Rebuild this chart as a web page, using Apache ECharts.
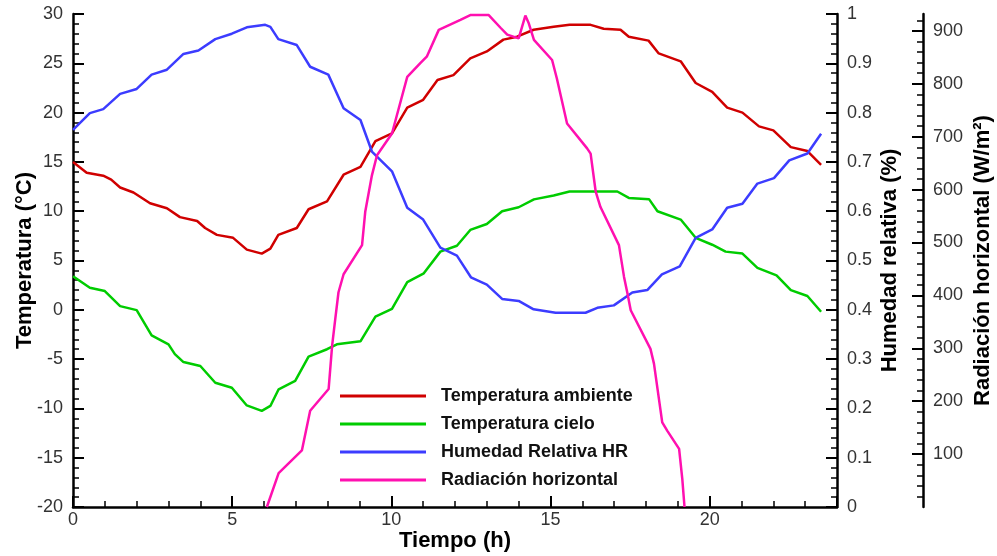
<!DOCTYPE html>
<html>
<head>
<meta charset="utf-8">
<script src="https://cdn.jsdelivr.net/npm/echarts@6/dist/echarts.min.js"></script>
<style>html,body{margin:0;padding:0;background:#fff}#c{width:997px;height:556px}</style>
</head>
<body>
<div id="c"></div>
<script>
// ---- data ----
var hoursAmb = [0,0.43,0.95,1.2,1.48,1.9,2.42,2.95,3.36,3.9,4.15,4.52,5.03,5.46,5.93,6.2,6.45,7.03,7.4,7.98,8.5,9.03,9.5,10.02,10.5,11.0,11.45,11.95,12.48,13.0,13.52,13.95,14.47,15.1,15.6,16.26,16.67,17.2,17.46,18.08,18.4,19.09,19.56,20.08,20.55,21.03,21.55,22.0,22.55,23.07,23.5];
var tempAmb  = [15.0,13.9,13.6,13.2,12.4,11.9,10.8,10.3,9.4,9.0,8.3,7.6,7.3,6.1,5.7,6.2,7.6,8.3,10.2,11.0,13.7,14.5,17.1,17.9,20.5,21.3,23.3,23.8,25.5,26.2,27.4,27.7,28.4,28.7,28.9,28.9,28.5,28.4,27.7,27.3,26.0,25.2,23.0,22.1,20.5,20.0,18.6,18.2,16.5,16.1,14.7];

var hoursSky = [0,0.53,1.0,1.48,2.0,2.47,3.0,3.2,3.47,4.0,4.47,4.99,5.46,5.93,6.2,6.46,6.98,7.4,7.98,8.29,9.03,9.5,10.02,10.5,11.02,11.54,12.06,12.48,13.0,13.48,14.0,14.48,15.1,15.6,17.1,17.46,18.1,18.36,19.09,19.56,20.08,20.5,21.03,21.5,22.1,22.55,23.07,23.5];
var tempSky  = [3.4,2.24,1.9,0.37,-0.03,-2.6,-3.5,-4.5,-5.3,-5.7,-7.4,-7.9,-9.7,-10.25,-9.75,-8.06,-7.2,-4.75,-4.0,-3.5,-3.2,-0.7,0.1,2.8,3.7,5.9,6.5,8.1,8.7,10.0,10.4,11.2,11.6,12.0,12.0,11.35,11.2,10.0,9.15,7.3,6.6,5.9,5.7,4.26,3.5,2.0,1.4,-0.2];

var hoursHR = [0,0.53,0.95,1.48,2.0,2.47,2.95,3.47,3.94,4.47,4.99,5.46,6.04,6.2,6.45,7.03,7.45,8.02,8.5,9.03,9.39,10.02,10.5,11.0,11.54,12.06,12.5,13.0,13.48,14.0,14.47,15.16,16.1,16.47,16.99,17.57,18.04,18.5,19.06,19.56,20.08,20.55,21.03,21.5,22.02,22.5,23.07,23.5];
var humRel  = [0.765,0.799,0.807,0.838,0.848,0.877,0.887,0.919,0.926,0.949,0.960,0.973,0.978,0.974,0.949,0.937,0.893,0.877,0.809,0.785,0.721,0.681,0.607,0.583,0.526,0.51,0.466,0.451,0.422,0.418,0.401,0.394,0.394,0.404,0.409,0.435,0.440,0.472,0.488,0.546,0.563,0.607,0.615,0.656,0.667,0.703,0.717,0.757];

var hoursRad = [6.09,6.46,7.19,7.45,8.03,8.14,8.24,8.34,8.5,9.08,9.18,9.39,9.55,10.02,10.5,10.91,11.12,11.49,12.17,12.48,13.06,13.43,13.64,14.0,14.21,14.32,14.48,15.05,15.2,15.52,16.15,16.26,16.42,16.57,17.15,17.31,17.41,17.52,18.14,18.25,18.51,18.67,19.04,19.14,19.21];
var radHor   = [0,64,107,182,223,305,356,406,440,495,558,627,665,706,813,839,852,902,921,930,930,906,893,886,929,914,883,845,810,725,678,668,596,567,495,435,406,372,299,271,160,144,110,53,0];

var seriesNames = ['Temperatura ambiente','Temperatura cielo','Humedad Relativa HR','Radiación horizontal'];
var xTickLabels = [0,5,10,15,20];
var tempTickLabels = [-20,-15,-10,-5,0,5,10,15,20,25,30];
var humTickLabels = [0,0.1,0.2,0.3,0.4,0.5,0.6,0.7,0.8,0.9,1];
var radTickLabels = [100,200,300,400,500,600,700,800,900];

function pairs(xs, ys){ return xs.map(function(x,i){ return [x, ys[i]]; }); }
var radMinor = [];
for (var v = 20; v <= 920; v += 20) radMinor.push(v);

var FONT = 'Liberation Sans, Arial, sans-serif';
var lblStyle = {fontFamily: FONT, fontSize: 18, color: '#333'};
var nameStyle = {fontFamily: FONT, fontSize: 22, fontWeight: 'bold', color: '#000'};
var axLine = {show: true, onZero: false, lineStyle: {color: '#000', width: 2.5}};
var majTick = {show: true, inside: true, length: 11, lineStyle: {color: '#000', width: 2}};
var minTick = {show: true, splitNumber: 5, length: 6, lineStyle: {color: '#000', width: 1.5}};

var chart = echarts.init(document.getElementById('c'));
chart.setOption({
  backgroundColor: '#fff',
  animation: false,
  grid: {left: 73, right: 160, top: 14, bottom: 49, containLabel: false, outerBoundsMode: 'none'},
  legend: {
    left: 335, top: 382, orient: 'vertical',
    icon: 'rect', itemWidth: 86, itemHeight: 3, itemGap: 10,
    data: seriesNames,
    formatter: function(n){ return '  ' + n; },
    textStyle: {fontFamily: FONT, fontSize: 18, fontWeight: 'bold', color: '#111', lineHeight: 18}
  },
  xAxis: [
    {type: 'value', min: 0, max: 24, interval: 5, position: 'bottom',
     name: 'Tiempo (h)', nameLocation: 'middle', nameGap: 23, nameMoveOverlap: false, nameTextStyle: nameStyle,
     axisLine: axLine, axisTick: majTick, splitLine: {show: false},
     axisLabel: Object.assign({margin: 4, formatter: function(v){ return xTickLabels.indexOf(v) >= 0 ? String(v) : ''; }}, lblStyle)},
    {type: 'value', min: 0, max: 24, interval: 1, position: 'bottom',
     axisLine: {show: false, onZero: false}, axisLabel: {show: false}, splitLine: {show: false},
     axisTick: {show: true, inside: true, length: 6, lineStyle: {color: '#000', width: 1.5}}}
  ],
  yAxis: [
    {type: 'value', min: -20, max: 30, interval: 5, position: 'left',
     name: 'Temperatura (°C)', nameLocation: 'middle', nameGap: 37, nameMoveOverlap: false, nameTextStyle: nameStyle,
     axisLine: axLine, axisTick: majTick, minorTick: minTick, splitLine: {show: false}, minorSplitLine: {show: false},
     axisLabel: Object.assign({margin: 10, formatter: function(v){ return tempTickLabels.indexOf(v) >= 0 ? String(v) : ''; }}, lblStyle)},
    {type: 'value', min: 0, max: 1, interval: 0.1, position: 'right',
     name: 'Humedad relativa (%)', nameLocation: 'middle', nameGap: 42, nameMoveOverlap: false, nameTextStyle: nameStyle,
     axisLine: axLine, axisTick: majTick, minorTick: minTick, splitLine: {show: false}, minorSplitLine: {show: false},
     axisLabel: Object.assign({margin: 10, formatter: function(v){ var r = Math.round(v*10)/10; return humTickLabels.indexOf(r) >= 0 ? String(r) : ''; }}, lblStyle)},
    {type: 'value', min: 0, max: 932, position: 'right', offset: 86,
     name: 'Radiación horizontal (W/m²)', nameLocation: 'middle', nameGap: 49, nameMoveOverlap: false, nameTextStyle: nameStyle,
     axisLine: axLine, splitLine: {show: false},
     axisTick: Object.assign({customValues: radTickLabels}, majTick),
     axisLabel: Object.assign({margin: 10, customValues: radTickLabels}, lblStyle)},
    {type: 'value', min: 0, max: 932, position: 'right', offset: 86,
     axisLine: {show: false, onZero: false}, axisLabel: {show: false}, splitLine: {show: false},
     axisTick: {show: true, inside: true, length: 6, customValues: radMinor, lineStyle: {color: '#000', width: 1.5}}}
  ],
  series: [
    {name: seriesNames[0], type: 'line', xAxisIndex: 0, yAxisIndex: 0, data: pairs(hoursAmb, tempAmb),
     symbol: 'none', color: '#d00000', lineStyle: {width: 2.5, color: '#d00000'}},
    {name: seriesNames[1], type: 'line', xAxisIndex: 0, yAxisIndex: 0, data: pairs(hoursSky, tempSky),
     symbol: 'none', color: '#00cc00', lineStyle: {width: 2.5, color: '#00cc00'}},
    {name: seriesNames[2], type: 'line', xAxisIndex: 0, yAxisIndex: 1, data: pairs(hoursHR, humRel),
     symbol: 'none', color: '#3c3cff', lineStyle: {width: 2.5, color: '#3c3cff'}},
    {name: seriesNames[3], type: 'line', xAxisIndex: 0, yAxisIndex: 2, data: pairs(hoursRad, radHor),
     symbol: 'none', color: '#ff10b0', lineStyle: {width: 2.5, color: '#ff10b0'}}
  ]
});
</script>
</body>
</html>
